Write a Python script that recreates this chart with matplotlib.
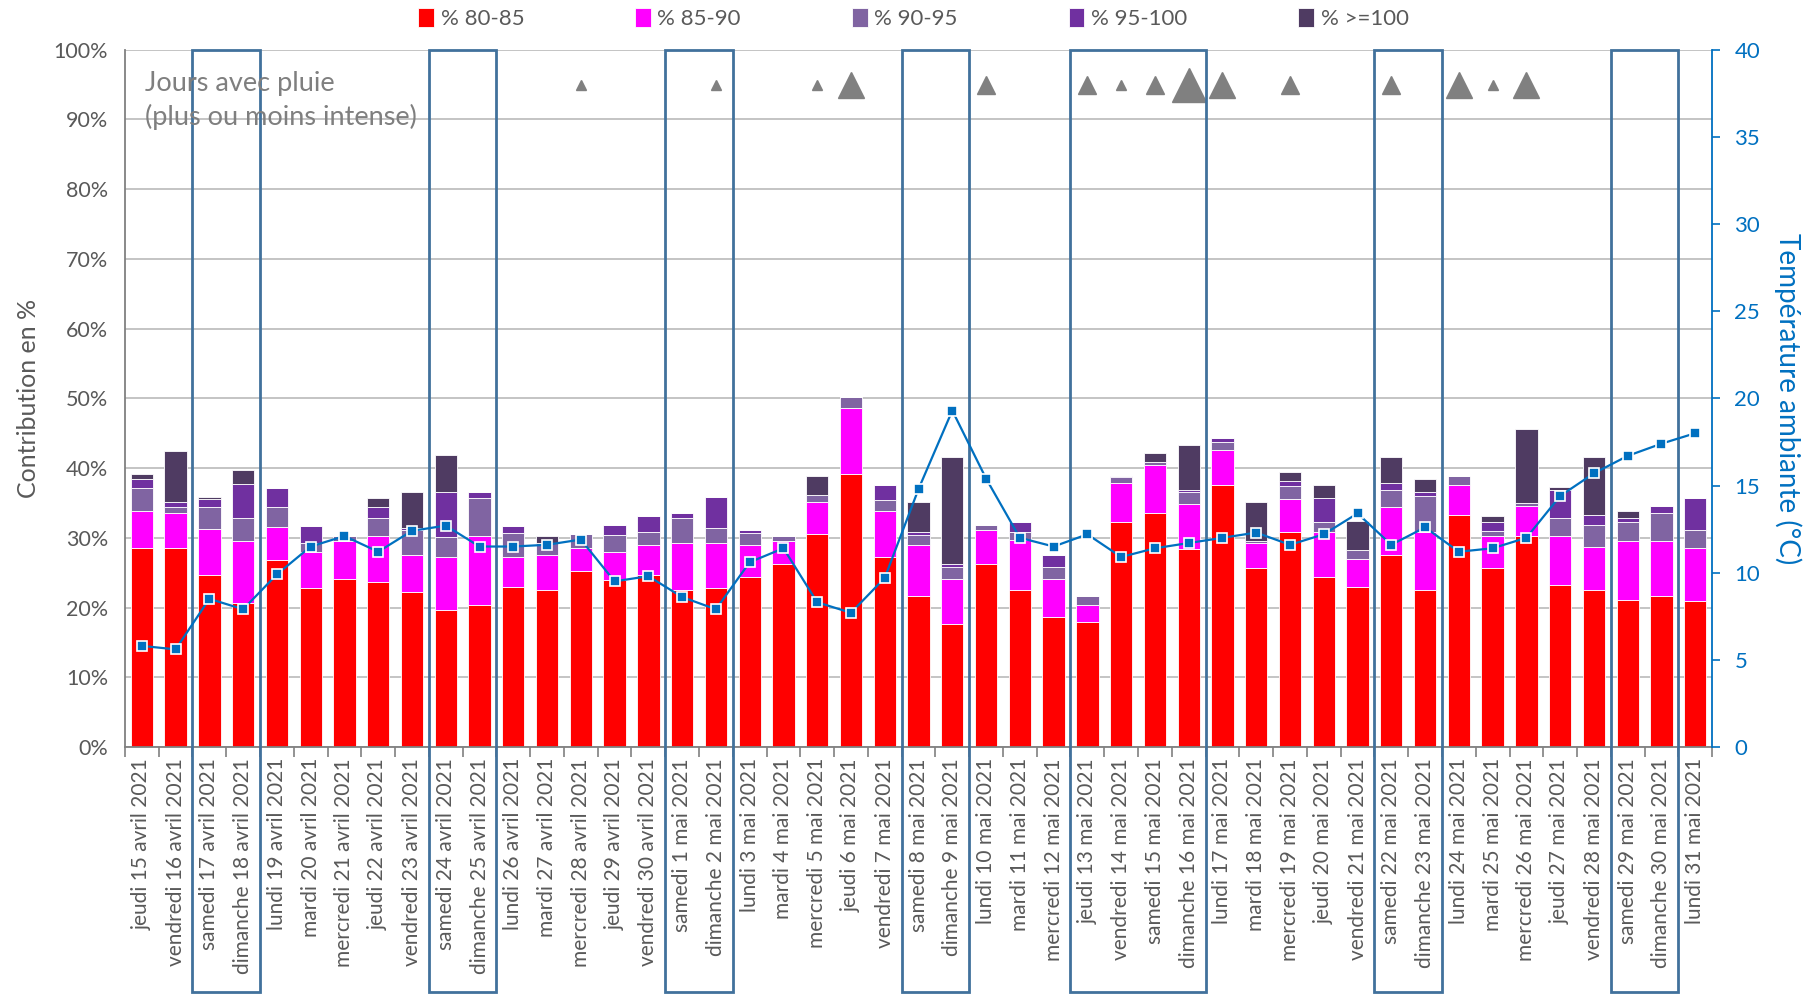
"""
Contribution par classe de charge et température ambiante,
du 15 avril au 31 mai 2021, avec jours de pluie et week-ends encadrés.
"""

import numpy as np
import matplotlib.pyplot as plt
import matplotlib.transforms as mtransforms
from matplotlib.patches import Rectangle
from matplotlib.ticker import PercentFormatter

plt.rcParams['font.family'] = ['Lato', 'DejaVu Sans']

jours = [
    "jeudi 15 avril 2021", "vendredi 16 avril 2021", "samedi 17 avril 2021",
    "dimanche 18 avril 2021", "lundi 19 avril 2021", "mardi 20 avril 2021",
    "mercredi 21 avril 2021", "jeudi 22 avril 2021", "vendredi 23 avril 2021",
    "samedi 24 avril 2021", "dimanche 25 avril 2021", "lundi 26 avril 2021",
    "mardi 27 avril 2021", "mercredi 28 avril 2021", "jeudi 29 avril 2021",
    "vendredi 30 avril 2021", "samedi 1 mai 2021", "dimanche 2 mai 2021",
    "lundi 3 mai 2021", "mardi 4 mai 2021", "mercredi 5 mai 2021",
    "jeudi 6 mai 2021", "vendredi 7 mai 2021", "samedi 8 mai 2021",
    "dimanche 9 mai 2021", "lundi 10 mai 2021", "mardi 11 mai 2021",
    "mercredi 12 mai 2021", "jeudi 13 mai 2021", "vendredi 14 mai 2021",
    "samedi 15 mai 2021", "dimanche 16 mai 2021", "lundi 17 mai 2021",
    "mardi 18 mai 2021", "mercredi 19 mai 2021", "jeudi 20 mai 2021",
    "vendredi 21 mai 2021", "samedi 22 mai 2021", "dimanche 23 mai 2021",
    "lundi 24 mai 2021", "mardi 25 mai 2021", "mercredi 26 mai 2021",
    "jeudi 27 mai 2021", "vendredi 28 mai 2021", "samedi 29 mai 2021",
    "dimanche 30 mai 2021", "lundi 31 mai 2021",
]

# contributions en % par classe
p80_85 = [28.5, 28.5, 24.7, 20.6, 26.8, 22.8, 24.1, 23.6, 22.2, 19.6, 20.4, 23.0,
          22.5, 25.2, 23.9, 24.7, 22.5, 22.8, 24.4, 26.3, 30.6, 39.2, 27.3, 21.7,
          17.7, 26.3, 22.5, 18.7, 17.9, 32.2, 33.5, 28.4, 37.6, 25.7, 30.9, 24.4,
          23.0, 27.6, 22.5, 33.3, 25.7, 30.3, 23.3, 22.5, 21.1, 21.7, 20.9]
p85_90 = [5.3, 5.0, 6.6, 8.9, 4.8, 5.1, 5.4, 6.7, 5.4, 7.7, 9.9, 4.3,
          5.1, 3.3, 4.0, 4.3, 6.7, 6.4, 4.6, 3.2, 4.5, 9.4, 6.5, 7.3,
          6.4, 4.8, 7.2, 5.4, 2.4, 5.6, 7.0, 6.5, 5.0, 3.5, 4.7, 6.5,
          4.0, 6.8, 8.4, 4.3, 4.6, 4.3, 7.0, 6.2, 8.4, 7.8, 7.6]
p90_95 = [3.3, 0.9, 3.1, 3.3, 2.8, 1.3, 0.8, 2.5, 3.5, 2.8, 5.4, 3.4,
          1.7, 2.1, 2.5, 1.9, 3.6, 2.2, 1.7, 0.8, 1.1, 1.6, 1.6, 1.4,
          1.7, 0.8, 1.2, 1.7, 1.4, 0.9, 0.3, 1.7, 1.2, 0.4, 1.8, 1.3,
          1.2, 2.4, 5.1, 1.3, 0.7, 0.4, 2.5, 3.2, 2.7, 4.0, 2.6]
p95_100 = [1.3, 0.8, 1.1, 4.9, 2.7, 2.5, 0.0, 1.6, 0.3, 6.4, 0.8, 1.0,
           0.0, 0.0, 1.5, 2.2, 0.7, 4.5, 0.4, 0.0, 0.0, 0.0, 2.2, 0.5,
           0.5, 0.0, 1.3, 1.8, 0.0, 0.2, 0.0, 0.2, 0.5, 0.0, 0.7, 3.5,
           0.0, 1.0, 0.5, 0.0, 1.2, 0.0, 4.0, 1.4, 0.6, 1.1, 4.6]
p100 = [0.8, 7.2, 0.4, 2.0, 0.0, 0.0, 0.0, 1.3, 5.1, 5.4, 0.0, 0.0,
        1.0, 0.0, 0.0, 0.0, 0.0, 0.0, 0.0, 0.0, 2.7, 0.0, 0.0, 4.2,
        15.3, 0.0, 0.0, 0.0, 0.0, 0.0, 1.4, 6.5, 0.0, 5.5, 1.4, 1.9,
        4.2, 3.8, 1.9, 0.0, 0.9, 10.6, 0.5, 8.3, 1.0, 0.0, 0.0]

temperature = [5.8, 5.6, 8.5, 7.9, 9.9, 11.5, 12.1, 11.2, 12.4, 12.7, 11.5, 11.5,
               11.6, 11.9, 9.5, 9.8, 8.6, 7.9, 10.6, 11.4, 8.3, 7.7, 9.7, 14.8,
               19.3, 15.4, 12.0, 11.5, 12.2, 10.9, 11.4, 11.7, 12.0, 12.3, 11.6, 12.2,
               13.4, 11.6, 12.6, 11.2, 11.4, 12.0, 14.4, 15.7, 16.7, 17.4, 18.0]

# intensité de pluie (0 = pas de pluie, 1 à 4 = de faible à forte)
pluie = [0, 0, 0, 0, 0, 0, 0, 0, 0, 0, 0, 0, 0, 1, 0, 0, 0, 1, 0, 0, 1, 3, 0, 0,
         0, 2, 0, 0, 2, 1, 2, 4, 3, 0, 2, 0, 0, 2, 0, 3, 1, 3, 0, 0, 0, 0, 0]

# week-ends et ponts encadrés (premier et dernier jour)
week_ends = [(2, 3), (9, 10), (16, 17), (23, 24), (28, 31), (37, 38), (44, 45)]

series = [p80_85, p85_90, p90_95, p95_100, p100]
noms = ["% 80-85", "% 85-90", "% 90-95", "% 95-100", "% >=100"]
couleurs = ["#FF0000", "#FF00FF", "#8064A2", "#7030A0", "#4F3B62"]

gris = "#595959"
bleu = "#0070C0"

fig = plt.figure(figsize=(18.16, 9.94), dpi=100)
ax = fig.add_axes([0.0688, 0.2485, 0.874, 0.7015])

x = np.arange(len(jours))
base = np.zeros(len(jours))
barres = []
for vals, col, nom in zip(series, couleurs, noms):
    b = ax.bar(x, vals, 0.66, bottom=base, color=col, edgecolor="white",
               linewidth=0.6, label=nom, zorder=2)
    barres.append(b)
    base += np.array(vals)

ax.set_xlim(-0.5, len(jours) - 0.5)
ax.set_ylim(0, 100)
ax.set_yticks(range(0, 101, 10))
ax.yaxis.set_major_formatter(PercentFormatter(decimals=0))
ax.grid(axis="y", color="#BFBFBF", linewidth=1.3, zorder=0)
ax.set_axisbelow(True)
ax.tick_params(axis="y", colors=gris, labelsize=15.5, length=0, pad=12)
ax.set_ylabel("Contribution en %", fontsize=18, color=gris, labelpad=10)

ax.set_xticks(np.arange(-0.5, len(jours), 1))
ax.set_xticklabels([])
ax.tick_params(axis="x", which="major", length=7, color="#808080", width=1.2)
ax.set_xticks(x, minor=True)
ax.set_xticklabels(jours, minor=True, rotation=90, fontsize=15, color=gris)
ax.tick_params(axis="x", which="minor", length=0, pad=8)

for cote in ["top", "right"]:
    ax.spines[cote].set_visible(False)
ax.spines["left"].set_color("#808080")
ax.spines["bottom"].set_color("#808080")
ax.spines["left"].set_linewidth(1.3)
ax.spines["bottom"].set_linewidth(1.3)

# jours de pluie : triangles gris, taille selon l'intensité
tailles = {1: 7, 2: 13.5, 3: 18.5, 4: 24}
for i, niv in enumerate(pluie):
    if niv > 0:
        ax.plot(x[i], 95.0, marker="^", ms=tailles[niv], color="#808080",
                linestyle="none", zorder=4)

ax.text(0.0126, 0.97, "Jours avec pluie\n(plus ou moins intense)",
        transform=ax.transAxes, fontsize=19.5, color="#7F7F7F",
        va="top", ha="left", linespacing=1.4, zorder=6)

# cadres des week-ends
trans = mtransforms.blended_transform_factory(ax.transData, ax.transAxes)
for debut, fin in week_ends:
    r = Rectangle((debut - 0.5, -0.352), fin - debut + 1, 1.352,
                  transform=trans, fill=False, edgecolor="#41719C",
                  linewidth=2, clip_on=False, zorder=5)
    ax.add_patch(r)

# température sur l'axe de droite
ax2 = ax.twinx()
ax2.plot(x, temperature, color=bleu, linewidth=1.6, marker="s", ms=7,
         markeredgecolor="white", markeredgewidth=1.2, zorder=6)
ax2.set_ylim(0, 40)
ax2.set_yticks(range(0, 41, 5))
ax2.tick_params(axis="y", colors=bleu, labelsize=16, length=6, width=1.2,
                pad=10)
ax2.set_ylabel("Température ambiante (°C)", fontsize=20, color=bleu,
               rotation=-90, labelpad=30)
for cote in ["top", "left", "bottom"]:
    ax2.spines[cote].set_visible(False)
ax2.spines["right"].set_color(bleu)
ax2.spines["right"].set_linewidth(1.3)

fig.legend(barres, noms, loc="upper center", bbox_to_anchor=(0.503, 1.012),
           ncol=5, frameon=False, fontsize=16, handlelength=0.7,
           handleheight=0.9, handletextpad=0.3, columnspacing=5.0,
           labelcolor=gris)

fig.savefig("out.png", dpi=100)
